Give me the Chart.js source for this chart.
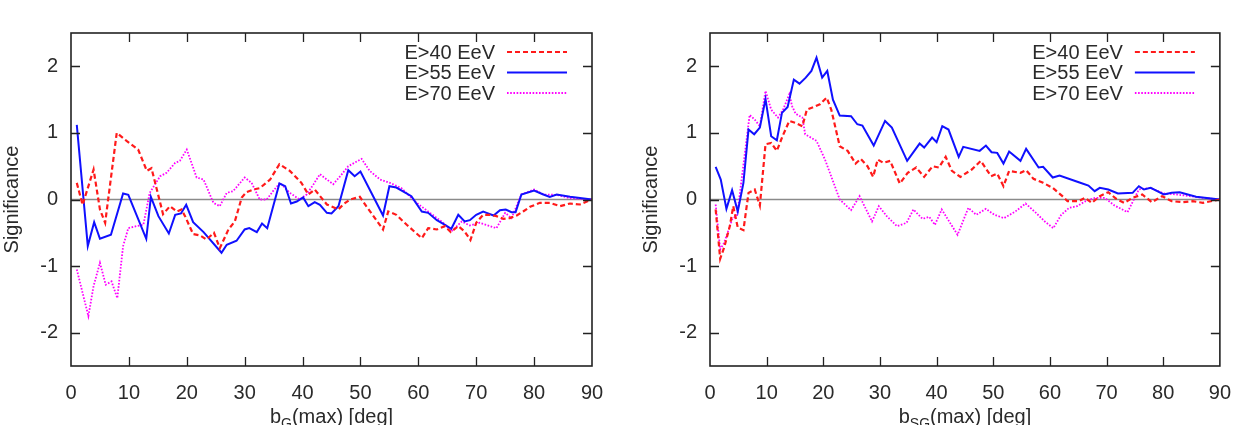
<!DOCTYPE html>
<html><head><meta charset="utf-8">
<script src="https://cdn.jsdelivr.net/npm/chart.js@4.4.1/dist/chart.umd.min.js"></script>
<style>
html,body{margin:0;padding:0;background:#fff;width:1246px;height:425px;overflow:hidden}
.wrap{position:absolute;top:0;width:623px;height:425px}
canvas{display:block}
</style></head><body>
<div class="wrap" style="left:0"><canvas id="c1" width="623" height="425"></canvas></div>
<div class="wrap" style="left:623px"><canvas id="c2" width="623" height="425"></canvas></div>
<script>
// ---------- data ----------
const seriesNames = ['E>40 EeV', 'E>55 EeV', 'E>70 EeV'];
const xTicks = [0, 10, 20, 30, 40, 50, 60, 70, 80, 90];
const yTicks = [-2, -1, 0, 1, 2];
const yTitle = 'Significance';
const xTitleLeft = ['b', 'G', '(max) [deg]'];
const xTitleRight = ['b', 'SG', '(max) [deg]'];

// left panel: b_G(max)
const leftE40 = [[1,0.25],[2,-0.08],[3.9,0.45],[5,-0.15],[5.9,-0.35],[7.9,1.0],[9.6,0.88],[11.6,0.75],[13.1,0.43],[13.9,0.47],[15.9,-0.22],[17.1,-0.1],[18.3,-0.18],[19.1,-0.15],[19.7,-0.25],[21.1,-0.52],[22.3,-0.54],[23.4,-0.6],[24.7,-0.5],[25.7,-0.73],[27.2,-0.45],[28.3,-0.33],[29.5,0.03],[30.3,0.11],[31.5,0.15],[32.6,0.17],[34.4,0.3],[36,0.53],[37.8,0.43],[39.8,0.25],[41,0.075],[42.1,0.15],[44.2,-0.075],[46.2,-0.15],[47,-0.075],[48.2,0],[49.9,0.04],[51,-0.1],[53.9,-0.45],[54.8,-0.18],[56.2,-0.23],[58,-0.38],[60.6,-0.58],[61.7,-0.43],[63.2,-0.45],[64.6,-0.4],[65.6,-0.49],[66.9,-0.4],[68,-0.48],[69,-0.61],[70,-0.35],[71.2,-0.23],[72.4,-0.23],[73.5,-0.25],[74.7,-0.29],[75.8,-0.28],[77,-0.24],[78.1,-0.18],[79.3,-0.11],[81,-0.05],[82.7,-0.05],[84.5,-0.1],[86.2,-0.06],[87.9,-0.075],[90,0]];
const leftE55 = [[1,1.12],[2.9,-0.70],[4,-0.34],[5,-0.59],[6.9,-0.53],[9,0.09],[9.9,0.07],[13,-0.59],[13.8,0.04],[15.1,-0.25],[16.9,-0.51],[18,-0.23],[19,-0.21],[19.9,-0.08],[21.1,-0.34],[22.9,-0.49],[26,-0.80],[26.9,-0.68],[28.6,-0.62],[30,-0.45],[30.8,-0.43],[32.1,-0.49],[33,-0.36],[33.9,-0.43],[36,0.24],[37,0.2],[38,-0.06],[39,-0.03],[40.1,0.03],[41,-0.1],[42.1,-0.04],[43,-0.08],[44.2,-0.2],[45,-0.21],[46.2,-0.1],[47.9,0.44],[49,0.35],[50,0.42],[53.9,-0.24],[55,0.2],[56.2,0.18],[58.8,0.05],[60.6,-0.18],[61.7,-0.2],[63.2,-0.31],[64.6,-0.38],[65.7,-0.44],[66.9,-0.23],[68,-0.33],[68.9,-0.31],[70,-0.23],[71.2,-0.18],[71.8,-0.2],[73,-0.24],[74.1,-0.16],[75.1,-0.15],[76.1,-0.19],[76.8,-0.19],[77.8,0.075],[80,0.135],[81.6,0.075],[82.7,0.04],[83.9,0.075],[86.2,0.04],[90,0]];
const leftE70 = [[1,-1.05],[3,-1.75],[3.9,-1.3],[5,-0.95],[6,-1.28],[7,-1.23],[8,-1.48],[9,-0.7],[9.9,-0.43],[11.3,-0.4],[12.5,-0.38],[13.6,0.1],[15.4,0.35],[16.5,0.4],[18,0.55],[18.8,0.58],[20,0.75],[21.7,0.33],[22.9,0.3],[24.6,-0.05],[25.7,-0.1],[26.9,0.1],[28,0.125],[30,0.33],[31.2,0.25],[32.6,0],[33.8,0],[34.9,0.125],[36.1,0.25],[37.8,0.1],[39.5,0],[40.7,0.075],[41.9,0.23],[43,0.38],[44.2,0.3],[45.3,0.23],[46.5,0.35],[47.9,0.5],[50.2,0.61],[51.6,0.43],[53.4,0.3],[55.1,0.25],[57.1,0.17],[58.5,0.05],[59.7,-0.05],[62,-0.2],[64.3,-0.35],[65.7,-0.48],[67.5,-0.33],[68.9,-0.39],[70.6,-0.35],[72.4,-0.4],[73.5,-0.43],[75,-0.2],[76.1,-0.28],[77.8,0.075],[80,0.15],[81.6,0.075],[83.9,0.07],[86.2,0.02],[90,0]];

// right panel: b_SG(max)
const rightE40 = [[1,-0.15],[1.8,-0.89],[2.5,-0.72],[3.5,-0.4],[4.1,-0.1],[4.9,-0.42],[5.9,-0.46],[6.8,0.1],[7.9,0.15],[8.8,-0.09],[9.8,0.83],[10.8,0.85],[11.8,0.73],[12.8,0.95],[14,1.18],[15.1,1.15],[16.3,1.1],[17.1,1.35],[18.3,1.39],[19.4,1.43],[20.6,1.53],[21.4,1.35],[22.9,0.8],[24.3,0.73],[25.7,0.54],[26.6,0.61],[27.8,0.5],[28.8,0.34],[29.6,0.6],[30.6,0.55],[31.8,0.58],[33.5,0.24],[34.9,0.4],[36.4,0.48],[37.8,0.34],[39.3,0.5],[40.4,0.48],[41.6,0.64],[42.7,0.43],[44.2,0.34],[46.2,0.45],[47.8,0.58],[49.6,0.35],[50.7,0.39],[51.8,0.2],[52.8,0.43],[54.8,0.4],[55.8,0.44],[57.1,0.31],[58.8,0.25],[60.5,0.175],[62.2,0.05],[63.1,-0.025],[65.1,-0.025],[66.2,0.025],[67.4,-0.05],[68.8,0.05],[70.3,0.11],[71.7,0.01],[73.1,-0.05],[74.6,0.025],[76.3,0.075],[78,-0.04],[79.8,0.05],[81.5,-0.025],[83.5,-0.04],[85.2,-0.025],[87,-0.05],[90,0]];
const rightE55 = [[1,0.49],[1.9,0.3],[2.9,-0.14],[3.9,0.14],[4.9,-0.18],[5.9,0.25],[6.8,1.05],[7.8,0.98],[8.8,1.08],[9.8,1.51],[10.8,0.95],[11.8,0.89],[12.7,1.3],[13.7,1.39],[14.8,1.8],[15.8,1.74],[16.9,1.83],[17.9,1.93],[18.8,2.13],[19.8,1.83],[20.7,1.93],[21.7,1.5],[22.9,1.26],[24.9,1.25],[26,1.13],[26.9,1.11],[28.9,0.81],[30.9,1.18],[32.1,1.08],[34.8,0.58],[37,0.84],[37.8,0.78],[39.2,0.93],[40,0.86],[41,1.1],[42.1,1.05],[43.9,0.64],[44.7,0.79],[47.6,0.73],[48.7,0.81],[49.7,0.71],[50.7,0.7],[51.8,0.54],[52.8,0.72],[54.8,0.58],[55.8,0.76],[58,0.48],[58.8,0.49],[60.5,0.33],[61.7,0.36],[65.1,0.26],[66.8,0.21],[67.9,0.125],[68.8,0.175],[70.3,0.15],[72,0.09],[74.6,0.1],[75.7,0.2],[76.6,0.15],[77.8,0.175],[80.1,0.075],[81.5,0.1],[82.9,0.11],[85.8,0.04],[90,0]];
const rightE70 = [[1,-0.075],[1.8,-0.75],[2.5,-0.65],[3.9,-0.3],[4.8,-0.23],[7,1.27],[7.9,1.2],[8.8,1.1],[9.8,1.63],[10.8,1.35],[12,1.23],[12.9,1.35],[14,1.58],[14.5,1.4],[15.1,1.29],[16.3,1.23],[16.8,0.98],[18.8,0.88],[20.3,0.6],[22.9,0],[24.9,-0.16],[26.4,0.05],[28.6,-0.33],[29.8,-0.1],[31.2,-0.25],[33,-0.4],[34.7,-0.35],[35.9,-0.15],[37.5,-0.29],[38.7,-0.26],[39.7,-0.38],[40.9,-0.15],[42,-0.3],[43.7,-0.53],[45.6,-0.125],[47,-0.23],[48.7,-0.14],[50.2,-0.23],[51.9,-0.28],[53.9,-0.18],[55.7,-0.06],[57.4,-0.19],[59.1,-0.33],[60.6,-0.43],[62,-0.23],[63.4,-0.125],[64.8,-0.1],[66.3,-0.025],[68,0.025],[69.7,0.025],[71.4,-0.09],[73.7,-0.19],[75.7,0.15],[77.7,0.175],[80.1,0.09],[82.4,0.075],[84.7,0.05],[87,0.025],[90,0]];

// ---------- styles ----------
const FONT = "'Liberation Sans', Arial, sans-serif";
const TXT = '#2a2a2a';
const lineStyles = [
  {color:'#ff1a1a', width:2.2, dash:[5,3]},
  {color:'#1010ff', width:2, dash:[]},
  {color:'#ff00ff', width:1.8, dash:[1.6,1.6]}
];

const framePlugin = {
  id: 'frame',
  beforeDatasetsDraw(chart) {
    const {ctx, chartArea:a, scales} = chart;
    const y0 = scales.y.getPixelForValue(0);
    ctx.save();
    ctx.strokeStyle = '#8a8a8a'; ctx.lineWidth = 1.6;
    ctx.beginPath(); ctx.moveTo(a.left, y0); ctx.lineTo(a.right, y0); ctx.stroke();
    ctx.restore();
  },
  afterDatasetsDraw(chart, args, opts) {
    const {ctx, chartArea:a, scales} = chart;
    ctx.save();
    // inward ticks on all sides
    ctx.strokeStyle = '#222'; ctx.lineWidth = 1.3;
    const tl = 9;
    ctx.beginPath();
    xTicks.forEach(v => {
      if (v === xTicks[0] || v === xTicks[xTicks.length-1]) return;
      const px = Math.round(scales.x.getPixelForValue(v)) + 0.5;
      ctx.moveTo(px, a.bottom); ctx.lineTo(px, a.bottom - tl);
      ctx.moveTo(px, a.top); ctx.lineTo(px, a.top + tl);
    });
    yTicks.forEach(v => {
      const py = Math.round(scales.y.getPixelForValue(v)) + 0.5;
      ctx.moveTo(a.left, py); ctx.lineTo(a.left + tl, py);
      ctx.moveTo(a.right, py); ctx.lineTo(a.right - tl, py);
    });
    ctx.stroke();
    // frame
    ctx.lineWidth = 1.6;
    ctx.strokeRect(a.left, a.top, a.right - a.left, a.bottom - a.top);
    // legend (text right aligned, sample on the right)
    ctx.font = '20px ' + FONT;
    ctx.fillStyle = TXT;
    ctx.textAlign = 'right'; ctx.textBaseline = 'middle';
    chart.data.datasets.forEach((ds, i) => {
      const y = 52 + i * 20.5;
      ctx.fillText(ds.label, a.right - 97, y + 1);
      const st = lineStyles[i];
      ctx.save();
      ctx.strokeStyle = st.color; ctx.lineWidth = st.width; ctx.setLineDash(st.dash);
      ctx.beginPath(); ctx.moveTo(a.right - 85, y); ctx.lineTo(a.right - 25, y); ctx.stroke();
      ctx.restore();
    });
    // x-axis title with subscript
    const parts = opts.xTitle;
    const f1 = '20px ' + FONT, f2 = '14px ' + FONT;
    ctx.textAlign = 'left'; ctx.textBaseline = 'alphabetic';
    ctx.font = f1; const w1 = ctx.measureText(parts[0]).width, w3 = ctx.measureText(parts[2]).width;
    ctx.font = f2; const w2 = ctx.measureText(parts[1]).width;
    let x = (a.left + a.right) / 2 - (w1 + w2 + w3) / 2;
    const base = 423;
    ctx.font = f1; ctx.fillText(parts[0], x, base); x += w1;
    ctx.font = f2; ctx.fillText(parts[1], x, base + 5); x += w2;
    ctx.font = f1; ctx.fillText(parts[2], x, base);
    ctx.restore();
  }
};

function makeChart(id, series, xTitle, padLeft, padRight) {
  return new Chart(document.getElementById(id), {
    type: 'line',
    data: {
      datasets: series.map((s, i) => ({
        label: seriesNames[i],
        data: s.map(p => ({x: p[0], y: p[1]})),
        borderColor: lineStyles[i].color,
        borderWidth: lineStyles[i].width,
        borderDash: lineStyles[i].dash,
        pointRadius: 0, tension: 0, fill: false
      }))
    },
    options: {
      responsive: false, animation: false, events: [],
      layout: {padding: {left: padLeft, right: padRight, top: 33, bottom: 0}},
      plugins: {legend: {display: false}, tooltip: {enabled: false}, frame: {xTitle}},
      scales: {
        x: {
          type: 'linear', min: 0, max: 90,
          grid: {display: false, drawTicks: false}, border: {display: false},
          afterBuildTicks: s => { s.ticks = xTicks.map(v => ({value: v})); },
          afterFit: s => { s.height = 59; },
          ticks: {font: {family: FONT, size: 20}, color: TXT, padding: 15, maxRotation: 0, autoSkip: false}
        },
        y: {
          min: -2.5, max: 2.5,
          grid: {display: false, drawTicks: false}, border: {display: false},
          afterBuildTicks: s => { s.ticks = yTicks.map(v => ({value: v})); },
          afterFit: s => { s.width = 71; },
          ticks: {font: {family: FONT, size: 20}, color: TXT, padding: 13},
          title: {display: true, text: yTitle, font: {family: FONT, size: 20}, color: TXT, padding: {top: 0, bottom: 0}}
        }
      }
    },
    plugins: [framePlugin]
  });
}

makeChart('c1', [leftE40, leftE55, leftE70], xTitleLeft, 0, 31);
makeChart('c2', [rightE40, rightE55, rightE70], xTitleRight, 16, 17);
</script>
</body></html>
